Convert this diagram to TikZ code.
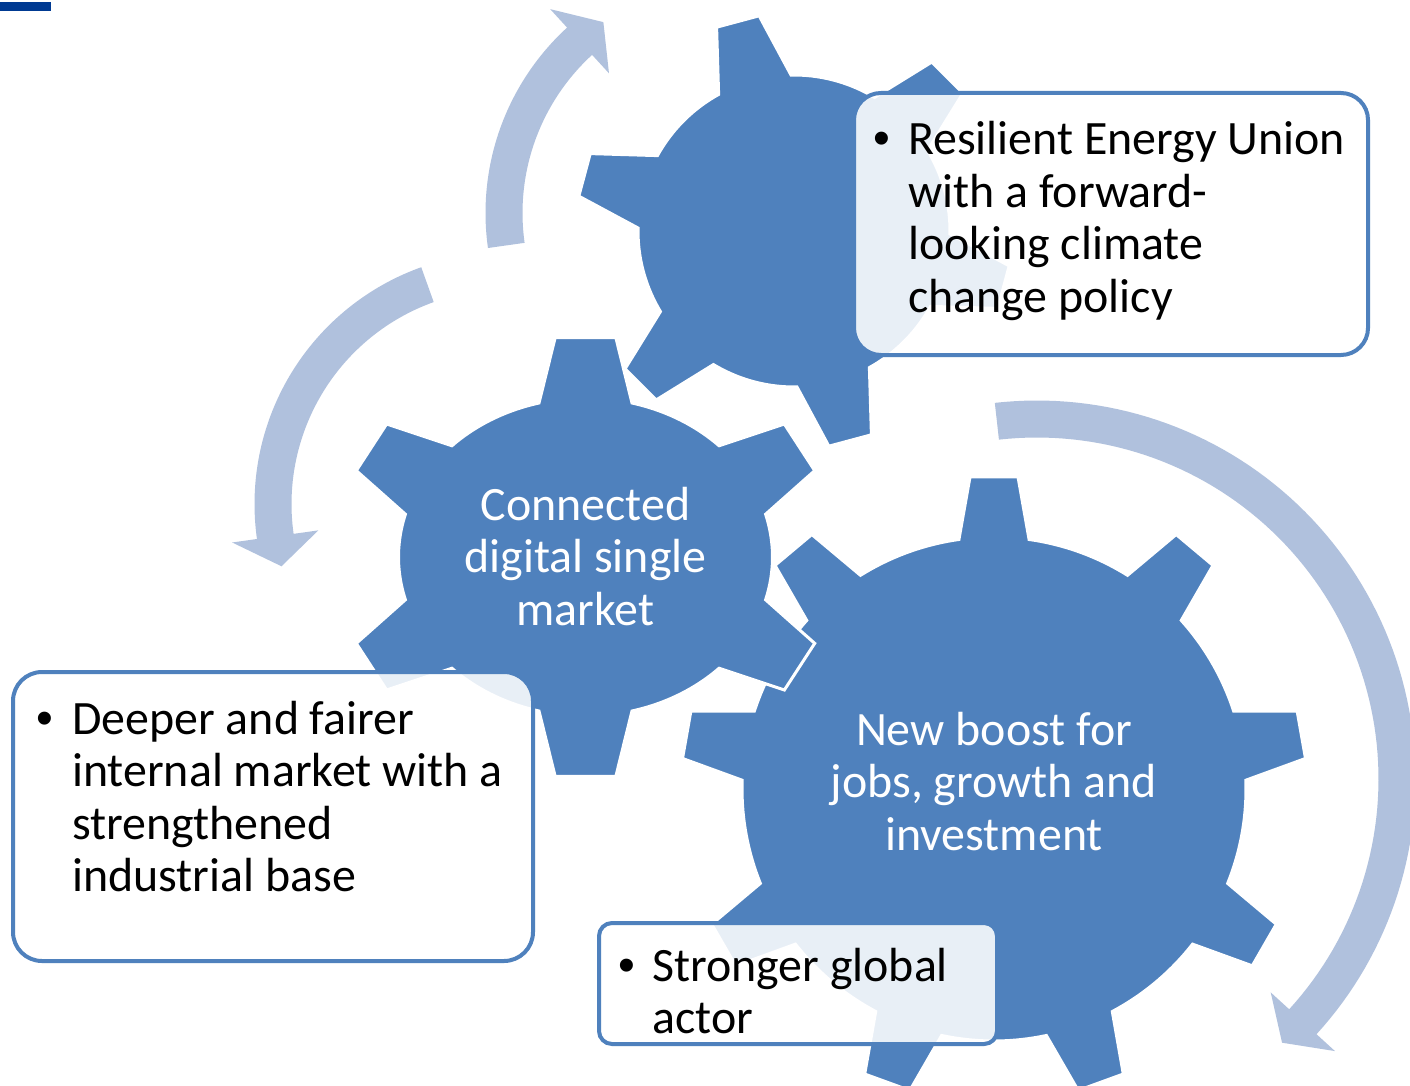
\documentclass[tikz,border=0pt]{standalone}
\usepackage{fontspec}
\setmainfont{Carlito}
\newfontfamily\bulletfont{Liberation Sans}
\definecolor{gearblue}{RGB}{79,129,189}
\definecolor{arrowblue}{RGB}{176,193,221}
\definecolor{barblue}{RGB}{0,58,146}
\newcommand\bigtxt{\fontsize{47.9}{52.5}\selectfont}
% gear parameters are read from \gcx \gcy \gn \grot \gtx \gty \gbx \gby \gdt \gdb
\newcommand\gearshape[1]{%
  \fill[#1] ({\gcx+\gbx*cos(\grot+\gdb)},{\gcy-\gby*sin(\grot+\gdb)})
  \foreach \k [evaluate=\k as \sa using \grot+360*(\k-1)/\gn+\gdb,
               evaluate=\k as \ea using \grot+360*\k/\gn-\gdb,
               evaluate=\k as \tc using \grot+360*\k/\gn] in {1,...,\gn} {
    -- plot[domain=\sa:\ea, samples=18] ({\gcx+\gbx*cos(\x)},{\gcy-\gby*sin(\x)})
    -- ({\gcx+\gtx*cos(\tc-\gdt)},{\gcy-\gty*sin(\tc-\gdt)})
    -- ({\gcx+\gtx*cos(\tc+\gdt)},{\gcy-\gty*sin(\tc+\gdt)})
    -- ({\gcx+\gbx*cos(\tc+\gdb)},{\gcy-\gby*sin(\tc+\gdb)})
  } -- cycle;}
% circular arrow: cx, cy, R, tail angle, head base angle, tip angle
\newcommand\circarrow[6]{%
  \fill[arrowstyle] plot[domain=#4:#5, samples=90] ({#1+(#3+18.5)*cos(\x)},{#2-(#3+18.5)*sin(\x)})
   -- ({#1+(#3+43.5)*cos(#5)},{#2-(#3+43.5)*sin(#5)})
   -- ({#1+#3*cos(#6)},{#2-#3*sin(#6)})
   -- ({#1+(#3-43.5)*cos(#5)},{#2-(#3-43.5)*sin(#5)})
   -- plot[domain=#5:#4, samples=90] ({#1+(#3-18.5)*cos(\x)},{#2-(#3-18.5)*sin(\x)})
   -- cycle;}
\begin{document}
\begin{tikzpicture}[x=1pt,y=-1pt,
  gearstyle/.style={fill=gearblue, draw=white, line width=3pt, line join=miter},
  arrowstyle/.style={fill=arrowblue},
  boxstyle/.style={draw=gearblue, line width=4pt, fill=white, fill opacity=0.875,
    text opacity=1, rounded corners=#1, inner sep=0pt},
  bodytext/.style={inner sep=0pt, anchor=base west, text=black},
  bullettext/.style={inner sep=0pt, anchor=base, text=black, font=\bulletfont\bigtxt},
  geartext/.style={inner sep=0pt, anchor=base, text=white}]
\useasboundingbox (0,0) rectangle (1410,1086);
\fill[white] (0,0) rectangle (1410,1086);
\fill[barblue] (0,2) rectangle (51,11);

% circular arrows
\circarrow{1037}{779}{360}{96.4}{-42.4}{-47.1}
\circarrow{737}{213}{233}{188}{132.5}{125}
\circarrow{506}{504}{233}{109.7}{188}{195.5}

% big gear
\def\gcx{994}\def\gcy{789}\def\gn{9}\def\grot{10}
\def\gtx{313}\def\gty{313}\def\gbx{252}\def\gby{252}\def\gdt{4.4}\def\gdb{8.0}
\gearshape{gearstyle}
% middle gear
\def\gcx{585.5}\def\gcy{557}\def\gn{6}\def\grot{90}
\def\gtx{249}\def\gty{221}\def\gbx{187}\def\gby{159}\def\gdt{7}\def\gdb{14.4}
\gearshape{gearstyle}
% top gear
\def\gcx{794}\def\gcy{231}\def\gn{6}\def\grot{105}
\def\gtx{218}\def\gty{218}\def\gbx{156}\def\gby{156}\def\gdt{5.8}\def\gdb{13.9}
\gearshape{gearstyle}

% gear labels
\node[geartext] (g2) at (585.5,520) {\parbox[t]{420pt}{\centering\bigtxt Connected\\digital single\\market}};
\node[geartext] (g3) at (994,745) {\parbox[t]{460pt}{\centering\bigtxt New boost for\\jobs, growth and\\investment}};

% boxes
\node[boxstyle=27pt, minimum width=514pt, minimum height=262pt] (box1) at (1111,224) {};
\node[boxstyle=29pt, minimum width=520pt, minimum height=289pt] (box2) at (273,816.5) {};
\node[boxstyle=13pt, minimum width=398pt, minimum height=121pt] (box3) at (798,983.5) {};

\node[bullettext] (b1) at (882,155) {•};
\node[bodytext] (t1) at (908,155) {\parbox[t]{450pt}{\raggedright\bigtxt Resilient Energy Union\\with a forward-\\looking climate\\change policy}};
\node[bullettext] (b2) at (45,734) {•};
\node[bodytext] (t2) at (72,734) {\parbox[t]{450pt}{\raggedright\bigtxt Deeper and fairer\\internal market with a\\strengthened\\industrial base}};
\node[bullettext] (b3) at (627,981) {•};
\node[bodytext] (t3) at (652,981) {\parbox[t]{340pt}{\raggedright\bigtxt Stronger global\\actor}};
\end{tikzpicture}
\end{document}
